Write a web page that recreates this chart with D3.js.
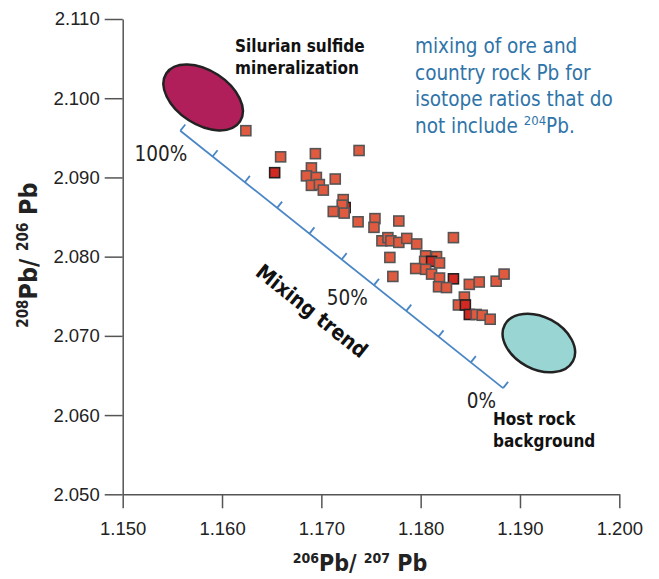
<!DOCTYPE html>
<html>
<head>
<meta charset="utf-8">
<script src="https://cdn.jsdelivr.net/npm/d3@7"></script>
<style>
  body { margin: 0; background: #fff; }
  svg { display: block; font-family: "Liberation Sans Narrow", "DejaVu Sans Condensed", "Roboto", sans-serif; }
</style>
</head>
<body>
<div id="chart"></div>
<script>
// axis ticks
const xTicks = [1.150, 1.160, 1.170, 1.180, 1.190, 1.200];
const yTicks = [2.050, 2.060, 2.070, 2.080, 2.090, 2.100, 2.110];

// sample isotope ratios (206Pb/207Pb, 208Pb/206Pb)
const ratio206_207 = [
  1.1624, 1.1659, 1.1653, 1.1694, 1.1738, 1.1690, 1.1685, 1.1695, 1.1714, 1.1690,
  1.1698, 1.1702, 1.1722, 1.1724, 1.1721, 1.1712, 1.1723, 1.1737, 1.1754, 1.1753,
  1.1778, 1.1761, 1.1767, 1.1770, 1.1778, 1.1786, 1.1796, 1.1833, 1.1769, 1.1772,
  1.1805, 1.1816, 1.1804, 1.1811, 1.1819, 1.1795, 1.1805, 1.1811, 1.1819, 1.1833,
  1.1818, 1.1826, 1.1849, 1.1859, 1.1876, 1.1884, 1.1844, 1.1838, 1.1845, 1.1849,
  1.1856, 1.1862, 1.1870
];
const ratio208_206 = [
  2.0959, 2.0926, 2.0906, 2.0930, 2.0934, 2.0912, 2.0902, 2.0900, 2.0898, 2.0890,
  2.0891, 2.0884, 2.0872, 2.0862, 2.0865, 2.0857, 2.0855, 2.0844, 2.0848, 2.0837,
  2.0845, 2.0820, 2.0824, 2.0820, 2.0818, 2.0823, 2.0816, 2.0824, 2.0799, 2.0775,
  2.0801, 2.0800, 2.0794, 2.0794, 2.0792, 2.0785, 2.0784, 2.0778, 2.0773, 2.0772,
  2.0762, 2.0761, 2.0765, 2.0768, 2.0769, 2.0778, 2.0749, 2.0739, 2.0739, 2.0727,
  2.0727, 2.0726, 2.0721
];
// samples drawn in the darker red
const darkSamples = [2, 13, 33, 39, 48, 49];

// end members (centre of each field)
const endMemberNames = ["Silurian sulfide mineralization", "Host rock background"];
const endMemberX = [1.1581, 1.1919];
const endMemberY = [2.1001, 2.0691];

// mixing line from 100% ore to 0% ore
const mixX = [1.1558, 1.1883];
const mixY = [2.0959, 2.0634];
const mixSteps = [100, 90, 80, 70, 60, 50, 40, 30, 20, 10, 0];
const mixLabels = ["100%", "50%", "0%"];

const W = 659, H = 579;
const svg = d3.select("#chart").append("svg").attr("width", W).attr("height", H);

const x = d3.scaleLinear().domain([1.150, 1.200]).range([122.7, 619.3]);
const y = d3.scaleLinear().domain([2.050, 2.110]).range([494.3, 19]);

const axisColor = "#555";

// x axis
const gx = svg.append("g").attr("transform", `translate(0,${y(2.050)})`)
  .call(d3.axisBottom(x).tickValues(xTicks).tickSize(14).tickSizeOuter(0)
    .tickPadding(14).tickFormat(d3.format(".3f")));
// y axis
const gy = svg.append("g").attr("transform", `translate(${x(1.150)},0)`)
  .call(d3.axisLeft(y).tickValues(yTicks).tickSize(18).tickSizeOuter(0)
    .tickPadding(5).tickFormat(d3.format(".3f")));
[gx, gy].forEach(g => {
  g.selectAll("path, line").attr("stroke", axisColor).attr("stroke-width", 1.5);
  g.selectAll("text").attr("font-family", null).attr("font-size", 18.5).attr("fill", "#222");
});

// axis titles
const xt = svg.append("text").attr("x", 360).attr("y", 571).attr("text-anchor", "middle")
  .attr("font-weight", "bold").attr("font-size", 23).attr("fill", "#222");
xt.append("tspan").attr("font-size", 14).attr("dy", -8).text("206");
xt.append("tspan").attr("dy", 8).text("Pb/ ");
xt.append("tspan").attr("font-size", 14).attr("dy", -8).text("207");
xt.append("tspan").attr("dy", 8).text(" Pb");

const yt = svg.append("text").attr("transform", "translate(37,255) rotate(-90)")
  .attr("text-anchor", "middle").attr("font-weight", "bold").attr("font-size", 25).attr("fill", "#222");
yt.append("tspan").attr("font-size", 15).attr("dy", -9).text("208");
yt.append("tspan").attr("dy", 9).text("Pb/ ");
yt.append("tspan").attr("font-size", 15).attr("dy", -9).text("206");
yt.append("tspan").attr("dy", 9).text(" Pb");

// mixing line with ticks every 10%
const mixColor = "#4a86c5";
const x0 = x(mixX[0]), y0 = y(mixY[0]), x1 = x(mixX[1]), y1 = y(mixY[1]);
const ang = Math.atan2(y1 - y0, x1 - x0);
const px = Math.sin(ang), py = -Math.cos(ang); // perpendicular, toward upper right
const mixPos = p => [x0 + (x1 - x0) * (100 - p) / 100, y0 + (y1 - y0) * (100 - p) / 100];

const mix = svg.append("g").attr("stroke", mixColor).attr("stroke-width", 1.8).attr("fill", "none");
mix.append("line").attr("x1", x0).attr("y1", y0).attr("x2", x1).attr("y2", y1);
mix.selectAll("line.tick").data(mixSteps).join("line").attr("class", "tick")
  .attr("x1", d => mixPos(d)[0]).attr("y1", d => mixPos(d)[1])
  .attr("x2", d => mixPos(d)[0] + px * 8).attr("y2", d => mixPos(d)[1] + py * 8);

const pctOffsets = [[7, 30, "end"], [-15, 46, "start"], [-7, 20, "end"]];
[100, 50, 0].forEach((p, i) => {
  const [mx, my] = mixPos(p);
  svg.append("text").attr("x", mx + pctOffsets[i][0]).attr("y", my + pctOffsets[i][1])
    .attr("text-anchor", pctOffsets[i][2]).attr("font-size", 20.5).attr("fill", "#222")
    .text(mixLabels[i]);
});

svg.append("text")
  .attr("transform", `translate(311,312) rotate(${ang * 180 / Math.PI})`)
  .attr("text-anchor", "middle").attr("dominant-baseline", "middle")
  .attr("font-weight", "bold").attr("font-size", 21).attr("fill", "#111")
  .text("Mixing trend");

// end-member fields
const fieldStyle = [
  { rx: 44, ry: 27, rot: 33, fill: "#b01f5a" },
  { rx: 38.6, ry: 26.1, rot: 28, fill: "#98d5d3" }
];
svg.selectAll("ellipse.field").data(endMemberNames).join("ellipse").attr("class", "field")
  .attr("transform", (d, i) => `translate(${x(endMemberX[i])},${y(endMemberY[i])}) rotate(${fieldStyle[i].rot})`)
  .attr("rx", (d, i) => fieldStyle[i].rx).attr("ry", (d, i) => fieldStyle[i].ry)
  .attr("fill", (d, i) => fieldStyle[i].fill)
  .attr("stroke", "#222").attr("stroke-width", 2.5);

// field labels
const fieldLabels = [["Silurian sulfide", "mineralization"], ["Host rock", "background"]];
const fieldLabelPos = [[235, 52], [493, 425]];
fieldLabels.forEach((lines, i) => {
  const t = svg.append("text").attr("x", fieldLabelPos[i][0]).attr("y", fieldLabelPos[i][1])
    .attr("font-weight", "bold").attr("font-size", 17).attr("fill", "#111");
  lines.forEach((s, j) => t.append("tspan").attr("x", fieldLabelPos[i][0]).attr("dy", j ? 22 : 0).text(s));
});

// samples
const dark = new Set(darkSamples);
svg.append("g").selectAll("rect").data(ratio206_207).join("rect")
  .attr("x", (d, i) => x(d) - 5).attr("y", (d, i) => y(ratio208_206[i]) - 5)
  .attr("width", 10).attr("height", 10)
  .attr("fill", (d, i) => dark.has(i) ? "#d22a22" : "#e05a40")
  .attr("stroke", (d, i) => dark.has(i) ? "#222" : "#555")
  .attr("stroke-width", 1.6);

// note in blue
const note = svg.append("text").attr("x", 415).attr("y", 53)
  .attr("font-size", 20.5).attr("fill", "#2f74a8");
note.append("tspan").attr("x", 415).text("mixing of ore and");
note.append("tspan").attr("x", 415).attr("dy", 26.5).text("country rock Pb for");
note.append("tspan").attr("x", 415).attr("dy", 26.5).text("isotope ratios that do");
note.append("tspan").attr("x", 415).attr("dy", 26.5).text("not include ");
note.append("tspan").attr("font-size", 13).attr("dy", -8).text("204");
note.append("tspan").attr("dy", 8).text("Pb.");
</script>
</body>
</html>
